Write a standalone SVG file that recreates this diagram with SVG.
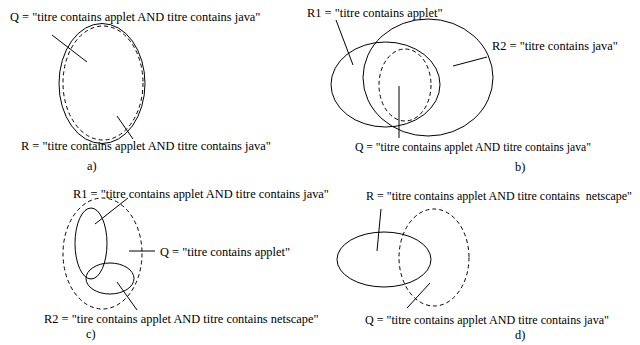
<svg xmlns="http://www.w3.org/2000/svg" width="640" height="345" viewBox="0 0 640 345">
<style>
text{font-family:"Liberation Serif","Times New Roman",serif;font-size:12.4px;fill:#000}
.s{fill:none;stroke:#000;stroke-width:1}
.d{fill:none;stroke:#000;stroke-width:1;stroke-dasharray:4,3}
</style>
<rect width="640" height="345" fill="#fff"/>
<g id="panel-a">
<ellipse id="a-R" class="s" cx="102" cy="83.5" rx="43" ry="60"/>
<ellipse id="a-Q" class="d" cx="103" cy="83" rx="40" ry="57"/>
<text x="10" y="21">Q = "titre contains applet AND titre contains java"</text>
<text x="21" y="150">R = "titre contains applet AND titre contains java"</text>
<text x="87" y="170">a)</text>
</g>
<g id="panel-b">
<ellipse id="b-R1" class="s" cx="385.5" cy="84.5" rx="54.5" ry="42.5"/>
<ellipse id="b-R2" class="s" cx="428" cy="77.5" rx="65" ry="58.5"/>
<ellipse id="b-Q" class="d" cx="405" cy="85" rx="26" ry="36"/>
<text x="307" y="17">R1 = "titre contains applet"</text>
<text x="492" y="50">R2 = "titre contains java"</text>
<text x="355" y="151" textLength="236" lengthAdjust="spacingAndGlyphs">Q = "titre contains applet AND titre contains java"</text>
<text x="515" y="171">b)</text>
</g>
<g id="panel-c">
<ellipse id="c-Q" class="d" cx="102.5" cy="253.5" rx="39.5" ry="55.5"/>
<ellipse id="c-R1" class="s" cx="91" cy="243.5" rx="16" ry="35.5"/>
<ellipse id="c-R2" class="s" cx="110" cy="278.5" rx="24" ry="15.5"/>
<text x="73" y="198">R1 = "titre contains applet AND titre contains java"</text>
<text x="160" y="256">Q = "titre contains applet"</text>
<text x="44" y="323">R2 = "tire contains applet AND titre contains netscape"</text>
<text x="86" y="338">c)</text>
</g>
<g id="panel-d">
<ellipse id="d-R" class="s" cx="384" cy="259.5" rx="47" ry="27.5"/>
<ellipse id="d-Q" class="d" cx="434" cy="257.5" rx="35" ry="48.5"/>
<text x="366" y="200" xml:space="preserve" textLength="266" lengthAdjust="spacingAndGlyphs">R = "titre contains applet AND titre contains  netscape"</text>
<text x="365" y="324" textLength="244" lengthAdjust="spacingAndGlyphs">Q = "titre contains applet AND titre contains java"</text>
<text x="515" y="339">d)</text>
</g>
<g id="connectors" class="s">
<line x1="52" y1="35" x2="87" y2="62"/>
<line x1="117" y1="116" x2="133" y2="139"/>
<line x1="336" y1="20" x2="353" y2="65"/>
<line x1="453" y1="66" x2="487" y2="57"/>
<line x1="399" y1="86" x2="399" y2="138"/>
<line x1="95" y1="224" x2="128" y2="198"/>
<line x1="129" y1="251" x2="155" y2="251"/>
<line x1="117" y1="282" x2="137" y2="310"/>
<line x1="381" y1="209" x2="377" y2="251"/>
<line x1="407" y1="308" x2="430" y2="283"/>
</g>
</svg>
